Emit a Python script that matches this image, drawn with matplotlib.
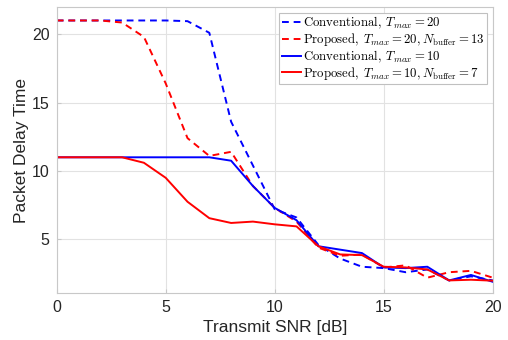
import numpy as np
import matplotlib
matplotlib.use('Agg')
import matplotlib.pyplot as plt

plt.rcParams['mathtext.fontset'] = 'cm'
plt.rcParams['font.family'] = ['Liberation Sans', 'DejaVu Sans']

# transmit SNR [dB]
snr = np.arange(0, 21)

# packet delay time per scheme
conv_t20 = [21.0, 21.0, 21.0, 21.0, 21.0, 21.0, 20.95, 20.1, 13.6, 10.4, 7.2,
            6.6, 4.6, 3.6, 3.0, 2.9, 2.6, 2.8, 2.0, 2.3, 2.0]
prop_t20 = [21.0, 21.0, 21.0, 20.85, 19.8, 16.4, 12.4, 11.1, 11.4, 8.9, 7.3,
            6.3, 4.4, 3.8, 3.9, 2.95, 3.1, 2.2, 2.6, 2.7, 2.2]
conv_t10 = [11.0, 11.0, 11.0, 11.0, 11.0, 11.0, 11.0, 11.0, 10.75, 8.9, 7.3,
            6.4, 4.5, 4.25, 4.0, 2.95, 2.9, 3.0, 2.0, 2.4, 1.9]
prop_t10 = [11.0, 11.0, 11.0, 11.0, 10.6, 9.5, 7.75, 6.55, 6.2, 6.3, 6.1,
            5.95, 4.5, 3.9, 3.85, 3.0, 2.95, 2.8, 2.0, 2.05, 1.98]

labels = [r'$\mathrm{Conventional,}\;T_{max} = 20$',
          r'$\mathrm{Proposed,}\;T_{max} = 20, N_{\mathrm{buffer}} = 13$',
          r'$\mathrm{Conventional,}\;T_{max} = 10$',
          r'$\mathrm{Proposed,}\;T_{max} = 10, N_{\mathrm{buffer}} = 7$']

fig = plt.figure(figsize=(5.08, 3.4), dpi=100)
ax = fig.add_axes([0.1116, 0.137, 0.8584, 0.843])

lw = 1.4
ax.plot(snr, conv_t20, color='#0000ff', lw=lw, linestyle=(0, (3.5, 2.5)), label=labels[0])
ax.plot(snr, prop_t20, color='#ff0000', lw=lw, linestyle=(0, (3.5, 2.5)), label=labels[1])
ax.plot(snr, conv_t10, color='#0000ff', lw=lw, label=labels[2])
ax.plot(snr, prop_t10, color='#ff0000', lw=lw, label=labels[3])

ax.set_xlim(0, 20)
ax.set_ylim(1.05, 22)
ax.set_xticks([0, 5, 10, 15, 20])
ax.set_yticks([5, 10, 15, 20])
ax.grid(True, color='#e2e2e2', lw=0.8)
ax.set_axisbelow(True)
for s in ax.spines.values():
    s.set_color('#c8c8c8')
    s.set_linewidth(0.8)
ax.tick_params(direction='in', length=3, color='#c8c8c8', labelsize=11.5,
               labelcolor='#262626', pad=5)

ax.set_xlabel('Transmit SNR [dB]', fontsize=12.5, color='#262626', labelpad=3)
ax.set_ylabel('Packet Delay Time', fontsize=12.5, color='#262626', labelpad=2)

leg = ax.legend(loc='upper right', fontsize=9.2, handlelength=1.5, handletextpad=0.15,
                labelspacing=0.0, borderpad=0.2, borderaxespad=0.45, fancybox=False,
                framealpha=1, edgecolor='#c0c0c0')
leg.get_frame().set_linewidth(0.8)

plt.savefig('out.png', dpi=100)
